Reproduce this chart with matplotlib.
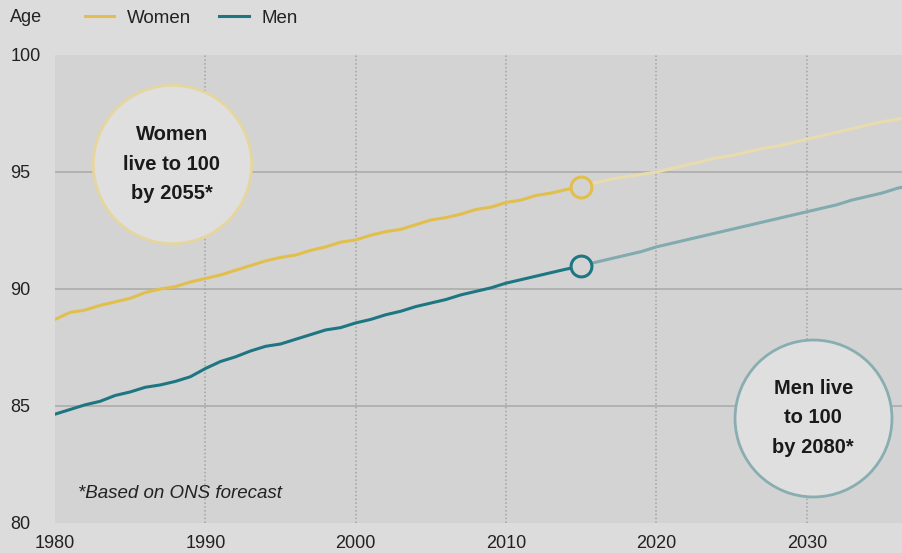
import numpy as np
import matplotlib.pyplot as plt

plt.rcParams['font.family'] = ['Liberation Sans', 'DejaVu Sans']

# observed life expectancy (years), 1980-2015
years_obs = list(range(1980, 2016))
women_obs = [88.7, 89.0, 89.1, 89.3, 89.45, 89.6, 89.85, 90.0, 90.1, 90.3,
             90.45, 90.6, 90.8, 91.0, 91.2, 91.35, 91.45, 91.65, 91.8, 92.0,
             92.1, 92.3, 92.45, 92.55, 92.75, 92.95, 93.05, 93.2, 93.4, 93.5,
             93.7, 93.8, 94.0, 94.1, 94.25, 94.36]
men_obs = [84.65, 84.85, 85.05, 85.2, 85.45, 85.6, 85.8, 85.9, 86.05, 86.25,
           86.6, 86.9, 87.1, 87.35, 87.55, 87.65, 87.85, 88.05, 88.25, 88.35,
           88.55, 88.7, 88.9, 89.05, 89.25, 89.4, 89.55, 89.75, 89.9, 90.05,
           90.25, 90.4, 90.55, 90.7, 90.85, 90.98]

# ONS projection, 2015 onwards
years_proj = list(range(2015, 2038))
women_proj = [94.36, 94.55, 94.7, 94.8, 94.9, 95.0, 95.15, 95.3, 95.45, 95.6,
              95.7, 95.85, 96.0, 96.1, 96.25, 96.4, 96.55, 96.7, 96.85, 97.0,
              97.15, 97.25, 97.4]
men_proj = [90.98, 91.15, 91.3, 91.45, 91.6, 91.8, 91.95, 92.1, 92.25, 92.4,
            92.55, 92.7, 92.85, 93.0, 93.15, 93.3, 93.45, 93.6, 93.8, 93.95,
            94.1, 94.3, 94.45]

x_ticks = [1980, 1990, 2000, 2010, 2020, 2030]
y_ticks = [80, 85, 90, 95, 100]

gold = '#e2bf4c'
gold_light = '#e8dcae'
teal = '#1d7682'
teal_light = '#82abaf'
fig_bg = '#dcdcdc'
ax_bg = '#d3d3d3'

fig = plt.figure(figsize=(9.03, 5.53), dpi=100)
fig.patch.set_facecolor(fig_bg)
ax = fig.add_axes([55 / 903, 30 / 553, 848 / 903, 468 / 553])
ax.set_facecolor(ax_bg)
for s in ax.spines.values():
    s.set_visible(False)

ax.set_xlim(1980, 2036.4)
ax.set_ylim(80, 100)

for y in [85, 90, 95]:
    ax.axhline(y, color='#a9a9a9', lw=1.1, zorder=1)
for x in x_ticks[1:]:
    ax.axvline(x, color='#a3a3a3', lw=1.1, ls=(0, (1, 1.5)), zorder=1)

ax.set_xticks(x_ticks)
ax.set_yticks(y_ticks)
ax.tick_params(length=0, labelsize=13, labelcolor='#222222')
ax.tick_params(axis='x', pad=9)
ax.tick_params(axis='y', pad=32)
for lab in ax.get_yticklabels():
    lab.set_horizontalalignment('left')
    lab.set_verticalalignment('center_baseline')

# projections (drawn first, pale)
ax.plot(years_proj, women_proj, color=gold_light, lw=2.2, zorder=2)
ax.plot(years_proj, men_proj, color=teal_light, lw=2.2, zorder=2)

lw_women, = ax.plot(years_obs, women_obs, color=gold, lw=2.2, zorder=3)
lw_men, = ax.plot(years_obs, men_obs, color=teal, lw=2.2, zorder=3)

# open markers at the last observed year
ax.plot(years_obs[-1], women_obs[-1], 'o', ms=15, mfc=ax_bg, mec=gold, mew=2.2, zorder=4)
ax.plot(years_obs[-1], men_obs[-1], 'o', ms=15, mfc=ax_bg, mec=teal, mew=2.2, zorder=4)

# callout bubbles
ax.plot(1987.78, 95.34, 'o', ms=114, mfc='#dfdfdf', mec='#e6d69e', mew=2, zorder=5)
ax.text(1987.78, 95.34, 'Women\nlive to 100\nby 2055*', ha='center', va='center',
        fontsize=14.5, fontweight='bold', color='#1a1a1a', linespacing=1.7, zorder=6)
ax.plot(2030.43, 84.49, 'o', ms=113, mfc='#dfdfdf', mec='#88aeb2', mew=2, zorder=5)
ax.text(2030.43, 84.49, 'Men live\nto 100\nby 2080*', ha='center', va='center',
        fontsize=14.5, fontweight='bold', color='#1a1a1a', linespacing=1.7, zorder=6)

ax.text(1981.5, 81.25, '*Based on ONS forecast', fontsize=13.5, style='italic',
        color='#222222', ha='left', va='center')

# header: axis title and legend
fig.text(10 / 903, 1 - 18 / 553, 'Age', fontsize=13, color='#222222', va='center')
fig.legend([lw_women, lw_men], ['Women', 'Men'], loc='center left',
           bbox_to_anchor=(68 / 903, 1 - 18 / 553), ncol=2, frameon=False,
           fontsize=13.5, handlelength=1.55, columnspacing=1.5, handletextpad=0.7,
           labelcolor='#222222')

fig.savefig('out.png', dpi=100, facecolor=fig_bg)
